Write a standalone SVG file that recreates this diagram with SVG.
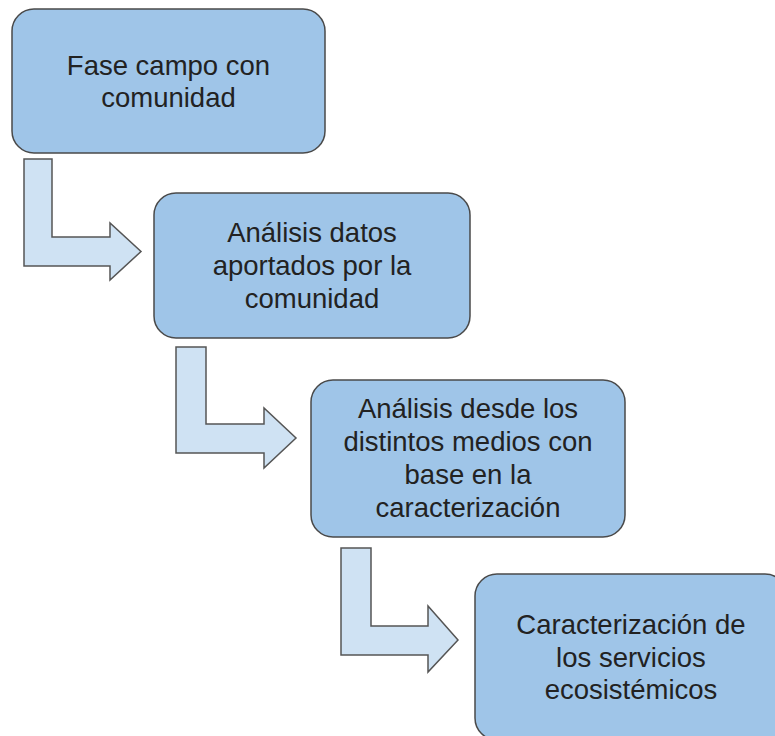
<svg xmlns="http://www.w3.org/2000/svg" width="775" height="736" viewBox="0 0 775 736">
<style>
.box{fill:#9fc5e8;stroke:#4a4a4a;stroke-width:1.5}
.arr{fill:#cfe2f3;stroke:#555555;stroke-width:1.5;stroke-linejoin:miter}
.t{font-family:"Liberation Sans",Arial,sans-serif;font-size:27.5px;fill:#222222;text-anchor:middle}
</style>
<rect width="775" height="736" fill="#ffffff"/>
<g id="connectors">
<polygon class="arr" points="24,159 52,159 52,237 110,237 110,223 141,251.5 110,280 110,266 24,266"/>
<polygon class="arr" points="176,347 206,347 206,424 264,424 264,408 296,438 264,468 264,453 176,453"/>
<polygon class="arr" points="341,548 371,548 371,626 428,626 428,606 458,640 428,672 428,655 341,655"/>
</g>
<g id="node1">
<rect class="box" x="12" y="9" width="313" height="144" rx="22"/>
<text class="t" x="168.5" y="75">Fase campo con</text>
<text class="t" x="168.5" y="107">comunidad</text>
</g>
<g id="node2">
<rect class="box" x="154" y="193" width="316" height="145" rx="22"/>
<text class="t" x="312" y="242">Análisis datos</text>
<text class="t" x="312" y="275">aportados por la</text>
<text class="t" x="312" y="308">comunidad</text>
</g>
<g id="node3">
<rect class="box" x="311" y="380" width="314" height="157" rx="22"/>
<text class="t" x="468" y="418">Análisis desde los</text>
<text class="t" x="468" y="451">distintos medios con</text>
<text class="t" x="468" y="484">base en la</text>
<text class="t" x="468" y="517">caracterización</text>
</g>
<g id="node4">
<rect class="box" x="475" y="574" width="312" height="166" rx="22"/>
<text class="t" x="631" y="634">Caracterización de</text>
<text class="t" x="631" y="667">los servicios</text>
<text class="t" x="631" y="699">ecosistémicos</text>
</g>
</svg>
